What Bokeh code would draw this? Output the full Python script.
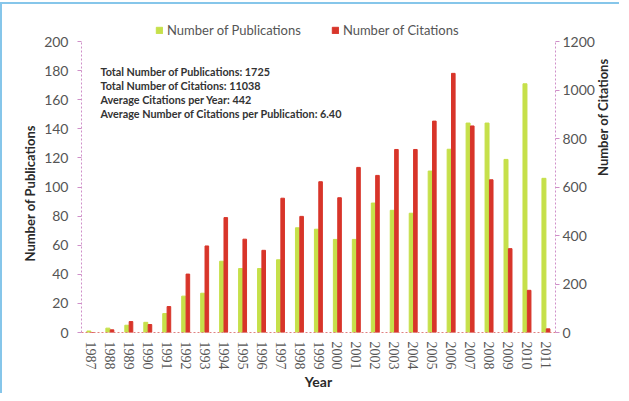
import math
from bokeh.plotting import figure
from bokeh.models import (FactorRange, Range1d, LinearAxis, Legend, LegendItem,
                          ColumnDataSource, Label, SingleIntervalTicker, Title)
from bokeh.transform import dodge
from bokeh.embed import file_html
from bokeh.resources import INLINE

years = [str(y) for y in range(1987, 2012)]
publications = [1, 3, 5, 7, 13, 25, 27, 49, 44, 44, 50, 72, 71, 64, 64, 89,
                84, 82, 111, 126, 144, 144, 119, 171, 106]
citations = [0, 11, 45, 33, 107, 241, 357, 474, 385, 339, 554, 479, 622, 556,
             681, 648, 755, 755, 872, 1069, 852, 630, 346, 174, 15]
summary_lines = [
    "Total Number of Publications: 1725",
    "Total Number of Citations: 11038",
    "Average Citations per Year: 442",
    "Average Number of Citations per Publication: 6.40",
]

GREEN = "#c6e04a"
RED = "#d8352a"
FONT = "Lato"

PUB_MAX, CIT_MAX = 200, 1200
HEADROOM = 1.076  # room above the axes for the legend

src = ColumnDataSource(dict(year=years, pub=publications, cit=citations))

p = figure(x_range=FactorRange(*years), y_range=Range1d(0, PUB_MAX * HEADROOM),
           width=619, height=391, output_backend="svg", toolbar_location=None,
           min_border_left=79, min_border_right=52, min_border_top=15, min_border_bottom=63)
p.styles = {"border-left": "2px solid #86c6ea", "border-top": "2px solid #86c6ea",
            "margin-top": "2px"}
p.extra_y_ranges = {"cit": Range1d(0, CIT_MAX * HEADROOM)}
p.x_range.range_padding = 0
p.outline_line_color = None
p.xgrid.grid_line_color = None
p.ygrid.grid_line_color = None

r1 = p.vbar(x=dodge("year", -0.11, range=p.x_range), top="pub", width=0.21,
            source=src, color=GREEN)
r2 = p.vbar(x=dodge("year", 0.11, range=p.x_range), top="cit", width=0.19,
            source=src, color=RED, y_range_name="cit")

right = LinearAxis(y_range_name="cit", ticker=SingleIntervalTicker(interval=200),
                   bounds=(0, CIT_MAX))
p.add_layout(right, "right")

p.yaxis[0].ticker = SingleIntervalTicker(interval=20)
p.yaxis[0].bounds = (0, PUB_MAX)
p.xaxis.axis_label = "Year"

for ax in p.yaxis:
    ax.axis_line_color = "#cf8fc8"
    ax.axis_line_dash = "2 2"
    ax.major_tick_line_color = "#cf8fc8"
    ax.major_tick_out = 4
    ax.major_tick_in = 0
    ax.minor_tick_line_color = None
    ax.major_label_text_font = FONT
    ax.major_label_text_font_size = "14px"
    ax.major_label_text_color = "#555555"
p.yaxis[0].major_label_standoff = 9
right.major_label_standoff = 3

title_font = dict(text_font=FONT, text_font_style="bold", text_font_size="13px",
                  text_color="#2a2a2a")
has_standoff = "standoff" in Title.properties()
t_left = Title(text="Number of Publications", align="left", offset=71, **title_font)
if has_standoff:
    t_left.standoff = 8
p.add_layout(t_left, "left")

right.axis_label = "Number of Citations"
right.axis_label_text_font = FONT
right.axis_label_text_font_style = "bold"
right.axis_label_text_font_size = "13px"
right.axis_label_text_color = "#2a2a2a"
right.axis_label_text_align = "center"
right.axis_label_standoff = 5
if "axis_label_orientation" in LinearAxis.properties():
    right.axis_label_orientation = math.pi / 2

xa = p.xaxis[0]
xa.axis_line_color = "#e08080"
xa.axis_line_dash = "2 2"
xa.major_tick_line_color = None
xa.minor_tick_line_color = None
xa.major_label_orientation = "vertical"
xa.major_label_text_font = "Liberation Serif"
xa.major_label_text_font_size = "14px"
xa.major_label_text_color = "#555555"
xa.major_label_standoff = 3
xa.axis_label_text_font = FONT
xa.axis_label_text_font_style = "bold"
xa.axis_label_text_font_size = "14px"
xa.axis_label_text_color = "#2a2a2a"
xa.axis_label_standoff = 0

legend = Legend(items=[LegendItem(label="Number of Publications", renderers=[r1]),
                       LegendItem(label="Number of Citations", renderers=[r2])],
                orientation="horizontal", location="top_left",
                label_text_font=FONT, label_text_font_size="13px",
                label_text_color="#555555", glyph_width=8, glyph_height=8,
                label_standoff=4, spacing=30, padding=0, margin=0,
                border_line_color=None, background_fill_alpha=0)
p.add_layout(legend, "center")
legend.location = (74, 294)

ys = [179.3, 169.7, 160.0, 150.4]
for line, yv in zip(summary_lines, ys):
    p.add_layout(Label(x=1.0, y=yv, text=line, text_font=FONT, text_font_style="bold",
                       text_font_size="10.8px", text_color="#333333",
                       text_baseline="middle"))

open("out.html", "w").write(file_html(p, INLINE))
